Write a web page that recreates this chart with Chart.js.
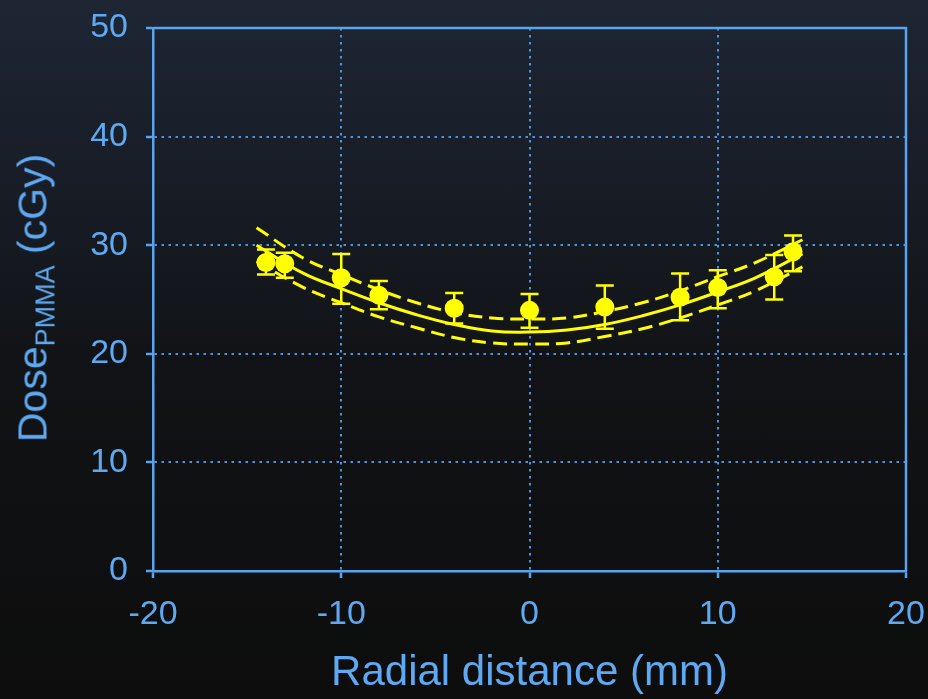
<!DOCTYPE html>
<html>
<head>
<meta charset="utf-8">
<title>Dose vs radial distance</title>
<script src="https://cdn.jsdelivr.net/npm/chart.js@4.4.1/dist/chart.umd.min.js"></script>
<style>
  html, body { margin: 0; padding: 0; }
  body {
    width: 928px; height: 699px; overflow: hidden; position: relative;
    background: linear-gradient(to bottom, #1e2634 0%, #181d27 25%, #111316 52%, #0d0d0d 100%);
    font-family: "Liberation Sans", Arial, sans-serif;
  }
  #wrap { position: absolute; left: 0; top: 0; width: 928px; height: 699px; }
  #ytitle {
    position: absolute; left: 35px; top: 298px;
    transform: translate(-50%, -50%) rotate(-90deg);
    white-space: nowrap; color: #5ea9f2; font-size: 41px; line-height: 46px;
  }
  #ytitle sub { font-size: 27px; vertical-align: baseline; position: relative; top: 8px; }
</style>
</head>
<body>
<div id="wrap"><canvas id="chart" width="928" height="699"></canvas></div>
<div id="ytitle">Dose<sub>PMMA</sub> (cGy)</div>
<script>
const xTicks = [-20, -10, 0, 10, 20];
const yTicks = [0, 10, 20, 30, 40, 50];

// measured points with error bars
const radial = [-14, -13, -10, -8, -4, 0, 4, 8, 10, 13, 14];
const dose = [28.4, 28.3, 27.0, 25.4, 24.2, 24.0, 24.3, 25.2, 26.1, 27.1, 29.4];
const doseHigh = [29.6, 29.3, 29.2, 26.7, 25.6, 25.5, 26.3, 27.4, 27.7, 29.1, 30.9];
const doseLow = [27.3, 27.0, 24.6, 24.1, 22.8, 22.4, 22.3, 23.1, 24.2, 25.0, 27.6];

// fitted curve and its confidence band
const fitX = [-14.5, -12, -10, -8, -6, -4, -2, 0, 2, 4, 6, 8, 10, 12, 14.5];
const fit = [30.0, 27.4, 26.0, 24.7, 23.6, 22.7, 22.1, 22.0, 22.2, 22.7, 23.5, 24.5, 25.7, 27.0, 29.2];
const fitUpper = [31.6, 28.8, 27.3, 25.9, 24.7, 23.8, 23.3, 23.2, 23.3, 23.9, 24.7, 25.8, 27.1, 28.4, 30.5];
const fitLower = [28.5, 26.1, 24.7, 23.4, 22.4, 21.5, 21.0, 20.9, 21.0, 21.6, 22.3, 23.3, 24.5, 25.8, 28.0];

const yellow = "#ffff00";
const blue = "#5ea9f2";
const axisBlue = "#5aa4ef";
const gridBlue = "#4d94e0";

function toXY(xs, ys) {
  return xs.map((x, i) => ({ x: x, y: ys[i] }));
}

function curve(data, dash) {
  return {
    data: data,
    showLine: true,
    borderColor: yellow,
    borderWidth: 3,
    borderDash: dash,
    pointRadius: 0,
    tension: 0.4,
    fill: false,
  };
}

// error bars under the points
const errorBars = {
  id: "errorBars",
  beforeDatasetDraw(chart, args) {
    if (args.index !== 0) return;
    const ctx = chart.ctx;
    const xs = chart.scales.x;
    const ys = chart.scales.y;
    ctx.save();
    ctx.strokeStyle = yellow;
    ctx.lineWidth = 2.5;
    radial.forEach((r, i) => {
      const px = xs.getPixelForValue(r);
      const top = ys.getPixelForValue(doseHigh[i]);
      const bot = ys.getPixelForValue(doseLow[i]);
      ctx.beginPath();
      ctx.moveTo(px, top);
      ctx.lineTo(px, bot);
      ctx.moveTo(px - 9, top);
      ctx.lineTo(px + 9, top);
      ctx.moveTo(px - 9, bot);
      ctx.lineTo(px + 9, bot);
      ctx.stroke();
    });
    ctx.restore();
  },
};

// top and right edges of the plot box
const frame = {
  id: "frame",
  beforeDatasetsDraw(chart) {
    const { ctx, chartArea: a } = chart;
    ctx.save();
    ctx.strokeStyle = axisBlue;
    ctx.lineWidth = 2.5;
    ctx.beginPath();
    ctx.moveTo(a.left, a.top);
    ctx.lineTo(a.right, a.top);
    ctx.lineTo(a.right, a.bottom);
    ctx.stroke();
    ctx.restore();
  },
};

function gridColor(ticks) {
  return (c) => {
    const v = c.tick ? c.tick.value : null;
    return v === ticks[0] || v === ticks[ticks.length - 1] ? "rgba(0,0,0,0)" : gridBlue;
  };
}

const ctx = document.getElementById("chart").getContext("2d");
new Chart(ctx, {
  type: "scatter",
  data: {
    datasets: [
      {
        data: toXY(radial, dose),
        pointRadius: 9.5,
        pointHoverRadius: 9.5,
        backgroundColor: yellow,
        borderWidth: 0,
      },
      curve(toXY(fitX, fit), []),
      curve(toXY(fitX, fitUpper), [14, 7]),
      curve(toXY(fitX, fitLower), [14, 7]),
    ],
  },
  options: {
    responsive: false,
    animation: false,
    layout: { padding: { left: 0, top: 28, right: 22, bottom: 0 } },
    plugins: { legend: { display: false }, tooltip: { enabled: false } },
    scales: {
      x: {
        type: "linear",
        min: xTicks[0],
        max: xTicks[xTicks.length - 1],
        afterBuildTicks: (s) => { s.ticks = xTicks.map((v) => ({ value: v })); },
        afterFit: (s) => {
          s.height = 128;
          s.paddingLeft = 0;
          s.paddingRight = 0;
        },
        ticks: {
          color: blue,
          font: { family: "Liberation Sans, Arial, sans-serif", size: 34 },
          padding: 16,
          maxRotation: 0,
        },
        grid: {
          color: gridColor(xTicks),
          lineWidth: 2,
          tickColor: axisBlue,
          tickLength: 7,
          tickWidth: 2.5,
        },
        border: { display: true, color: axisBlue, width: 2.5, dash: [2.5, 4.5] },
        title: {
          display: true,
          text: "Radial distance (mm)",
          color: blue,
          font: { family: "Liberation Sans, Arial, sans-serif", size: 42 },
          padding: { top: 0, bottom: 0 },
        },
      },
      y: {
        type: "linear",
        min: yTicks[0],
        max: yTicks[yTicks.length - 1],
        afterBuildTicks: (s) => { s.ticks = yTicks.map((v) => ({ value: v })); },
        afterFit: (s) => {
          s.width = 153;
          s.paddingTop = 0;
          s.paddingBottom = 0;
        },
        ticks: {
          color: blue,
          font: { family: "Liberation Sans, Arial, sans-serif", size: 34 },
          padding: 18,
        },
        grid: {
          color: gridColor(yTicks),
          lineWidth: 2,
          tickColor: axisBlue,
          tickLength: 7,
          tickWidth: 2.5,
        },
        border: { display: true, color: axisBlue, width: 2.5, dash: [2.5, 4.5] },
      },
    },
  },
  plugins: [errorBars, frame],
});
</script>
</body>
</html>
